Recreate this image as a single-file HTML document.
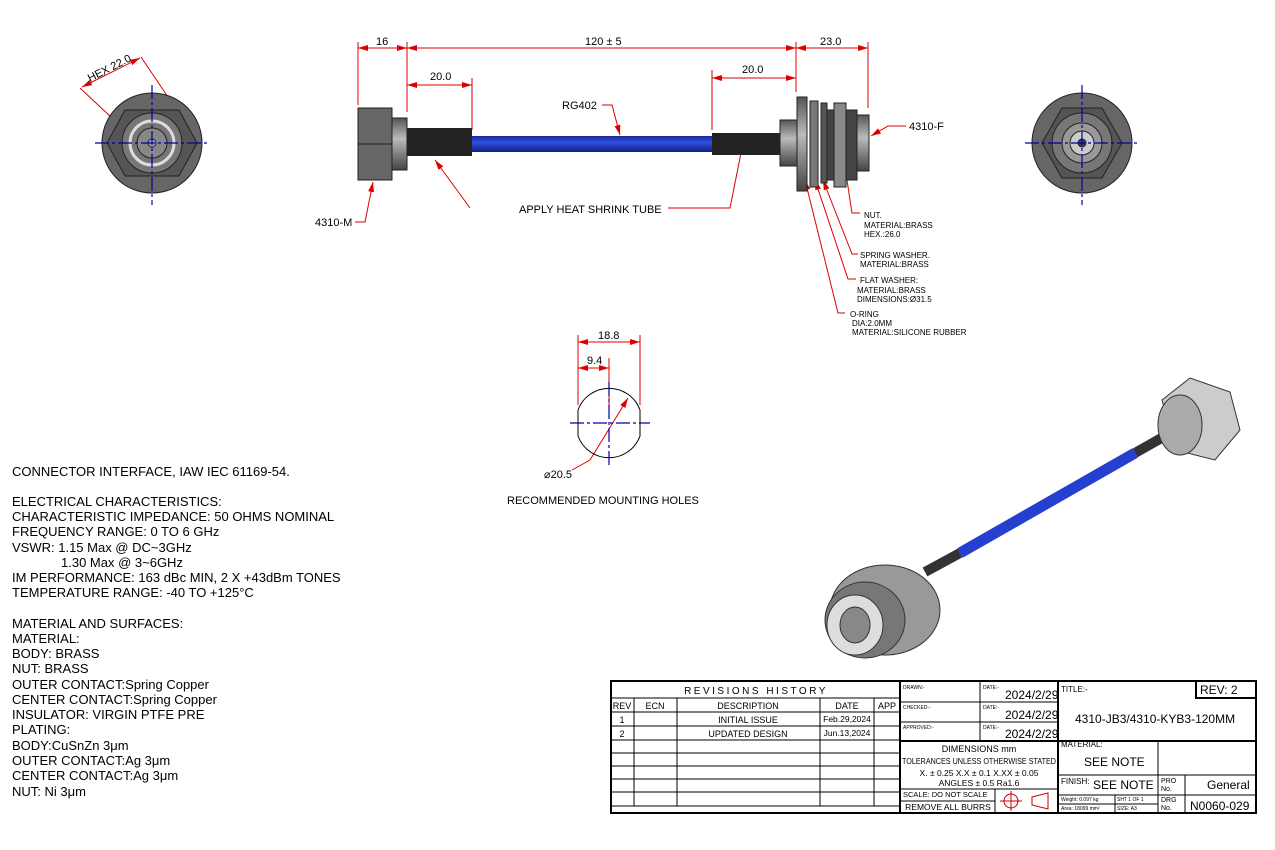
<!DOCTYPE html>
<html><head><meta charset="utf-8"><style>
html,body{margin:0;padding:0;background:#fff;width:1275px;height:850px;overflow:hidden}
svg{display:block}
text{font-family:"Liberation Sans",sans-serif;fill:#000}
</style></head><body>
<svg width="1275" height="850" viewBox="0 0 1275 850" xmlns="http://www.w3.org/2000/svg">
<defs>
<marker id="a" markerWidth="10" markerHeight="6" refX="10" refY="3" orient="auto-start-reverse"><path d="M0,0 L10,3 L0,6z" fill="#d00"/></marker>
<linearGradient id="blue" x1="0" y1="0" x2="0" y2="1"><stop offset="0" stop-color="#1a2a9a"/><stop offset=".4" stop-color="#3050e0"/><stop offset="1" stop-color="#101e80"/></linearGradient>
<linearGradient id="met" x1="0" y1="0" x2="0" y2="1"><stop offset="0" stop-color="#555"/><stop offset=".4" stop-color="#bbb"/><stop offset="1" stop-color="#444"/></linearGradient>
</defs>
<g stroke="#d00" stroke-width="1" fill="none">
<line x1="358" y1="42" x2="358" y2="105"/><line x1="407" y1="42" x2="407" y2="112"/><line x1="796" y1="42" x2="796" y2="92"/><line x1="868" y1="42" x2="868" y2="108"/>
<line x1="472" y1="78" x2="472" y2="130"/><line x1="712" y1="70" x2="712" y2="130"/>
<line x1="358" y1="48" x2="407" y2="48" marker-start="url(#a)" marker-end="url(#a)"/>
<line x1="407" y1="48" x2="796" y2="48" marker-start="url(#a)" marker-end="url(#a)"/>
<line x1="796" y1="48" x2="868" y2="48" marker-start="url(#a)" marker-end="url(#a)"/>
<line x1="407" y1="85" x2="472" y2="85" marker-start="url(#a)" marker-end="url(#a)"/>
<line x1="712" y1="78" x2="796" y2="78" marker-start="url(#a)" marker-end="url(#a)"/>
<polyline points="602,105 612,105 620,135" marker-end="url(#a)"/>
<polyline points="470,208 435,160" marker-end="url(#a)"/>
<polyline points="668,208 730,208 745,133" marker-end="url(#a)"/>
<polyline points="355,222 365,222 373,182" marker-end="url(#a)"/>
<polyline points="906,126 888,126 871,136" marker-end="url(#a)"/>
<polyline points="860,213 852,213 836,108" marker-end="url(#a)"/>
<polyline points="858,254 852,254 823,180" marker-end="url(#a)"/>
<polyline points="856,279 848,279 815,180" marker-end="url(#a)"/>
<polyline points="845,313 838,313 805,180" marker-end="url(#a)"/>
<line x1="80" y1="88" x2="128" y2="133"/><line x1="141" y1="57" x2="172" y2="103"/>
<line x1="82" y1="87" x2="140" y2="58" marker-start="url(#a)" marker-end="url(#a)"/>
<line x1="578" y1="335" x2="578" y2="405"/><line x1="609" y1="358" x2="609" y2="405"/><line x1="640" y1="335" x2="640" y2="405"/>
<line x1="578" y1="342" x2="640" y2="342" marker-start="url(#a)" marker-end="url(#a)"/>
<line x1="578" y1="368" x2="609" y2="368" marker-start="url(#a)" marker-end="url(#a)"/>
<polyline points="572,470 590,460 628,398" marker-end="url(#a)"/>
</g>
<g font-size="11"><text x="376" y="45">16</text><text x="585" y="45">120 ± 5</text><text x="820" y="45">23.0</text>
<text x="430" y="80">20.0</text><text x="742" y="73">20.0</text>
<text x="562" y="109">RG402</text><text x="519" y="213">APPLY HEAT SHRINK TUBE</text>
<text x="315" y="226">4310-M</text><text x="909" y="130">4310-F</text>
<text x="598" y="339">18.8</text><text x="587" y="364">9.4</text><text x="544" y="478">⌀20.5</text>
<text x="507" y="504">RECOMMENDED MOUNTING HOLES</text>
<text x="0" y="0" transform="translate(90,82) rotate(-27)">HEX 22.0</text></g>
<g font-size="8"><text x="864" y="218">NUT.</text><text x="864" y="228">MATERIAL:BRASS</text><text x="864" y="237">HEX.:26.0</text>
<text x="860" y="258">SPRING WASHER.</text><text x="860" y="267">MATERIAL:BRASS</text>
<text x="860" y="283">FLAT WASHER:</text><text x="857" y="293">MATERIAL:BRASS</text><text x="857" y="302">DIMENSIONS:Ø31.5</text>
<text x="850" y="317">O-RING</text><text x="852" y="326">DIA:2.0MM</text><text x="852" y="335">MATERIAL:SILICONE RUBBER</text></g>
<!-- side view -->
<rect x="358" y="108" width="34" height="72" fill="#666" stroke="#222"/><line x1="358" y1="144" x2="392" y2="144" stroke="#222"/>
<rect x="392" y="118" width="15" height="52" fill="url(#met)" stroke="#222"/>
<rect x="407" y="128" width="65" height="28" fill="#222"/><rect x="472" y="136" width="240" height="16" fill="url(#blue)"/>
<rect x="712" y="133" width="70" height="22" fill="#222"/>
<rect x="780" y="120" width="18" height="46" fill="url(#met)" stroke="#222"/>
<rect x="797" y="97" width="10" height="94" fill="url(#met)" stroke="#222"/>
<rect x="810" y="101" width="8" height="86" fill="#777" stroke="#222"/>
<rect x="821" y="103" width="6" height="80" fill="#555" stroke="#222"/>
<rect x="827" y="110" width="30" height="70" fill="#444" stroke="#222"/>
<rect x="834" y="103" width="12" height="84" fill="#888" stroke="#222"/>
<rect x="857" y="115" width="12" height="56" fill="url(#met)" stroke="#222"/>
<!-- end views -->
<g stroke="#222"><circle cx="152" cy="143" r="50" fill="#666"/><polygon points="125,110 179,110 197,143 179,176 125,176 107,143" fill="#555"/>
<circle cx="152" cy="143" r="30" fill="#777"/><circle cx="152" cy="143" r="22" fill="none" stroke="#ddd" stroke-width="3"/><circle cx="152" cy="143" r="15" fill="#888"/><circle cx="152" cy="143" r="4" fill="#aaa"/>
<circle cx="1082" cy="143" r="50" fill="#666"/><polygon points="1062,108 1102,108 1122,143 1102,178 1062,178 1042,143" fill="#555"/>
<circle cx="1082" cy="143" r="30" fill="#777"/><circle cx="1082" cy="143" r="20" fill="#999"/><circle cx="1082" cy="143" r="12" fill="#ccc"/><circle cx="1082" cy="143" r="4" fill="#444"/></g>
<g stroke="#00a" stroke-width="1.2" stroke-dasharray="14,3,3,3"><line x1="95" y1="143" x2="210" y2="143"/><line x1="152" y1="85" x2="152" y2="205"/>
<line x1="1025" y1="143" x2="1140" y2="143"/><line x1="1082" y1="85" x2="1082" y2="205"/>
<line x1="570" y1="423" x2="650" y2="423"/><line x1="609" y1="382" x2="609" y2="465"/></g>
<path d="M578,410 A33,33 0 0 1 640,410 L640,436 A33,33 0 0 1 578,436 Z" fill="none" stroke="#000"/>
<!-- iso -->
<line x1="960" y1="553" x2="1135" y2="453" stroke="#2540d0" stroke-width="11"/>
<line x1="925" y1="572" x2="960" y2="553" stroke="#333" stroke-width="10"/>
<line x1="1135" y1="453" x2="1165" y2="436" stroke="#333" stroke-width="10"/>
<polygon points="1162,400 1190,378 1230,392 1240,430 1215,460 1175,450" fill="#ccc" stroke="#333"/>
<ellipse cx="1180" cy="425" rx="22" ry="30" fill="#aaa" stroke="#333"/>
<ellipse cx="885" cy="610" rx="55" ry="45" fill="#999" stroke="#333"/>
<ellipse cx="865" cy="620" rx="40" ry="38" fill="#777" stroke="#333"/>
<ellipse cx="855" cy="625" rx="28" ry="30" fill="#ddd" stroke="#333"/>
<ellipse cx="855" cy="625" rx="15" ry="18" fill="#888" stroke="#333"/>
<!-- notes -->
<g font-size="13"><text x="12" y="476">CONNECTOR INTERFACE, IAW  IEC 61169-54.</text>
<text x="12" y="506">ELECTRICAL CHARACTERISTICS:</text><text x="12" y="521">CHARACTERISTIC IMPEDANCE: 50 OHMS NOMINAL</text>
<text x="12" y="536">FREQUENCY RANGE: 0 TO 6 GHz</text><text x="12" y="552">VSWR: 1.15 Max @ DC~3GHz</text>
<text x="61" y="567">1.30 Max @ 3~6GHz</text><text x="12" y="582">IM PERFORMANCE: 163 dBc MIN, 2 X +43dBm TONES</text>
<text x="12" y="597">TEMPERATURE RANGE: -40 TO +125°C</text>
<text x="12" y="628">MATERIAL AND SURFACES:</text><text x="12" y="643">MATERIAL:</text><text x="12" y="658">BODY: BRASS</text>
<text x="12" y="673">NUT: BRASS</text><text x="12" y="689">OUTER CONTACT:Spring Copper</text><text x="12" y="704">CENTER CONTACT:Spring Copper</text>
<text x="12" y="719">INSULATOR: VIRGIN PTFE PRE</text><text x="12" y="734">PLATING:</text><text x="12" y="750">BODY:CuSnZn 3μm</text>
<text x="12" y="765">OUTER CONTACT:Ag 3μm</text><text x="12" y="780">CENTER CONTACT:Ag 3μm</text><text x="12" y="796">NUT: Ni 3μm</text></g>
<!-- title block -->
<g stroke="#000" fill="none">
<rect x="611" y="681" width="645" height="132" stroke-width="2"/>
<line x1="900" y1="681" x2="900" y2="813" stroke-width="2"/><line x1="1058" y1="681" x2="1058" y2="813" stroke-width="2"/>
<line x1="611" y1="698" x2="900" y2="698"/>
<line x1="611" y1="712" x2="900" y2="712"/><line x1="611" y1="726" x2="900" y2="726"/><line x1="611" y1="740" x2="900" y2="740"/>
<line x1="611" y1="753" x2="900" y2="753"/><line x1="611" y1="766" x2="900" y2="766"/><line x1="611" y1="779" x2="900" y2="779"/><line x1="611" y1="792" x2="900" y2="792"/><line x1="611" y1="806" x2="900" y2="806"/>
<line x1="634" y1="698" x2="634" y2="806"/><line x1="677" y1="698" x2="677" y2="806"/><line x1="820" y1="698" x2="820" y2="806"/><line x1="874" y1="698" x2="874" y2="806"/>
<line x1="900" y1="702" x2="1058" y2="702"/><line x1="900" y1="722" x2="1058" y2="722"/><line x1="900" y1="741" x2="1256" y2="741" stroke-width="2"/>
<line x1="980" y1="681" x2="980" y2="741"/>
<line x1="900" y1="789" x2="1058" y2="789"/><line x1="900" y1="801" x2="995" y2="801"/><line x1="995" y1="789" x2="995" y2="813"/>
<rect x="1196" y="681" width="60" height="17" stroke-width="2"/>
<line x1="1058" y1="775" x2="1256" y2="775"/><line x1="1158" y1="741" x2="1158" y2="813"/><line x1="1185" y1="775" x2="1185" y2="813"/>
<line x1="1058" y1="795" x2="1256" y2="795"/><line x1="1115" y1="795" x2="1115" y2="813"/><line x1="1058" y1="804" x2="1158" y2="804"/>
<circle cx="1011" cy="801" r="7" stroke="#c00"/><line x1="1000" y1="801" x2="1022" y2="801" stroke="#c00"/><line x1="1011" y1="791" x2="1011" y2="811" stroke="#c00"/>
<polygon points="1032,797 1048,793 1048,809 1032,805" stroke="#c00"/>
</g>
<g font-size="9" text-anchor="middle"><text x="756" y="694" font-size="10" letter-spacing="2.5">REVISIONS HISTORY</text>
<text x="622" y="709">REV</text><text x="655" y="709">ECN</text><text x="748" y="709">DESCRIPTION</text><text x="847" y="709">DATE</text><text x="887" y="709">APP</text>
<text x="622" y="723">1</text><text x="748" y="723">INITIAL ISSUE</text><text x="847" y="722" font-size="8.5">Feb.29,2024</text>
<text x="622" y="737">2</text><text x="748" y="737">UPDATED DESIGN</text><text x="847" y="736" font-size="8.5">Jun.13,2024</text>
<text x="979" y="752">DIMENSIONS  mm</text><text x="979" y="764" font-size="8" textLength="154" lengthAdjust="spacingAndGlyphs">TOLERANCES UNLESS OTHERWISE STATED</text>
<text x="979" y="776" font-size="8.5">X. ± 0.25  X.X ± 0.1  X.XX ± 0.05</text><text x="979" y="786" font-size="8.5">ANGLES ± 0.5  Ra1.6</text>
<text x="948" y="810" font-size="8.5">REMOVE ALL BURRS</text></g>
<g font-size="5"><text x="903" y="689">DRAWN:-</text><text x="903" y="709">CHECKED:-</text><text x="903" y="729">APPROVED:-</text>
<text x="983" y="689">DATE:-</text><text x="983" y="709">DATE:-</text><text x="983" y="729">DATE:-</text>
<text x="1061" y="801">Weight: 0.097 kg</text><text x="1061" y="810">Area: 18099 mm²</text><text x="1117" y="801">SHT 1 OF 1</text><text x="1117" y="810">SIZE:    A3</text>
<text x="1161" y="783" font-size="7">PRO</text><text x="1161" y="791" font-size="7">No.</text><text x="1161" y="802" font-size="7">DRG</text><text x="1161" y="810" font-size="7">No.</text></g>
<g font-size="12"><text x="1005" y="699">2024/2/29</text><text x="1005" y="719">2024/2/29</text><text x="1005" y="738">2024/2/29</text>
<text x="1075" y="723">4310-JB3/4310-KYB3-120MM</text><text x="1084" y="766">SEE NOTE</text><text x="1093" y="789">SEE NOTE</text>
<text x="1207" y="789">General</text><text x="1190" y="810">N0060-029</text><text x="1200" y="694">REV:  2</text></g>
<g font-size="8"><text x="903" y="797" font-size="7.5">SCALE:  DO NOT SCALE</text><text x="1061" y="692">TITLE:-</text><text x="1061" y="747">MATERIAL:</text><text x="1061" y="784">FINISH:</text></g>
</svg>
</body></html>
